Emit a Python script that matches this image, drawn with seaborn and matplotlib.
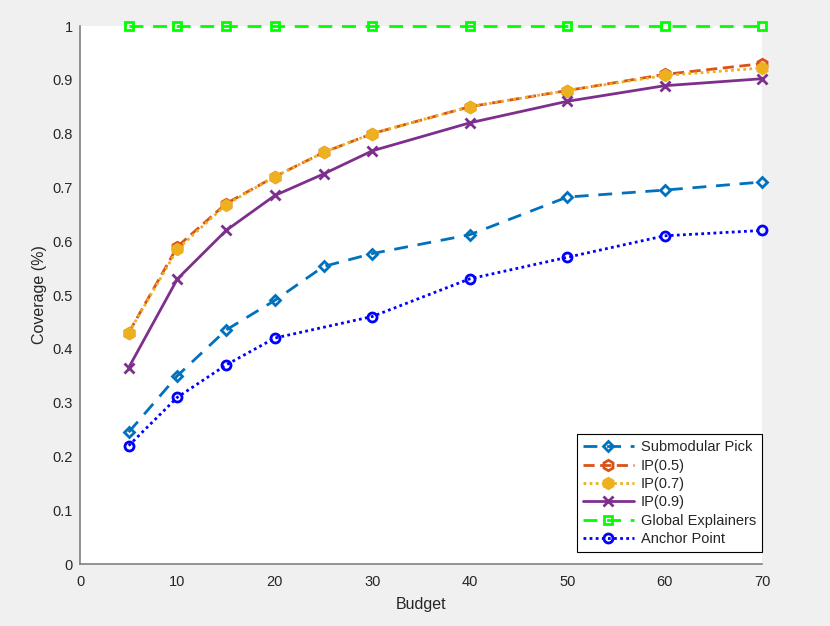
import numpy as np
import pandas as pd
import matplotlib
matplotlib.use("Agg")
import matplotlib.pyplot as plt
import seaborn as sns

sns.set_style("white")
plt.rcParams['font.family'] = ['Liberation Sans', 'DejaVu Sans']

# -----------------------------
# data
# -----------------------------
budget_full = [5, 10, 15, 20, 25, 30, 40, 50, 60, 70]
budget_short = [5, 10, 15, 20, 30, 40, 50, 60, 70]

submodular = [0.245, 0.35, 0.435, 0.49, 0.553, 0.577, 0.612, 0.682, 0.695, 0.71]
ip_05 = [0.43, 0.59, 0.67, 0.72, 0.765, 0.80, 0.85, 0.88, 0.91, 0.93]
ip_07 = [0.43, 0.585, 0.668, 0.72, 0.765, 0.80, 0.85, 0.88, 0.908, 0.922]
ip_09 = [0.365, 0.53, 0.62, 0.685, 0.725, 0.768, 0.82, 0.86, 0.889, 0.902]
global_expl = [1, 1, 1, 1, 1, 1, 1, 1, 1]
anchor = [0.22, 0.31, 0.37, 0.42, 0.46, 0.53, 0.57, 0.61, 0.62]

series = [
    ("Submodular Pick", budget_full, submodular, "#0072BD", (0, (5, 3.5)), "D", "none", 5.5),
    ("IP(0.5)", budget_full, ip_05, "#D95319", (0, (4, 2)), "h", "none", 7.5),
    ("IP(0.7)", budget_full, ip_07, "#EDB120", (0, (1, 1.2)), "h", "#EDB120", 7.5),
    ("IP(0.9)", budget_full, ip_09, "#7E2F8E", "-", "x", "none", 6.5),
    ("Global Explainers", budget_short, global_expl, "#00FF00", (0, (5, 3.5)), "s", "none", 5.5),
    ("Anchor Point", budget_short, anchor, "#0000FF", (0, (1, 1.2)), "o", "none", 6.5),
]

fig = plt.figure(figsize=(8.3, 6.26), dpi=100, facecolor="#f0f0f0")
ax = fig.add_axes([80 / 830, 1 - 564 / 626, 682 / 830, 538 / 626])
ax.set_facecolor("white")

for name, xs, ys, col, ls, mk, mfc, ms in series:
    df = pd.DataFrame({"Budget": xs, "Coverage": ys})
    sns.lineplot(data=df, x="Budget", y="Coverage", ax=ax, color=col, linestyle=ls,
                 linewidth=2, marker=mk, markersize=ms, markerfacecolor=mfc,
                 markeredgecolor=col, markeredgewidth=2, label=name, clip_on=False)

ax.set_xlim(0, 70)
ax.set_ylim(0, 1)
ax.set_xticks(range(0, 71, 10))
ax.set_yticks(np.arange(0, 1.01, 0.1))
ax.set_yticklabels(["0"] + [f"{v:.1f}" for v in np.arange(0.1, 0.95, 0.1)] + ["1"])
ax.set_xlabel("Budget", fontsize=11.5, color="#262626", labelpad=6)
ax.set_ylabel("Coverage (%)", fontsize=11.5, color="#262626", labelpad=4)
ax.tick_params(direction="in", length=5, width=1, colors="#808080",
               labelcolor="#262626", labelsize=10.5)
ax.tick_params(axis="x", pad=8)
ax.tick_params(axis="y", pad=5)
for side in ["top", "right"]:
    ax.spines[side].set_visible(False)
for side in ["left", "bottom"]:
    ax.spines[side].set_color("#808080")
    ax.spines[side].set_linewidth(1.2)

leg = ax.legend(loc="lower right", bbox_to_anchor=(1.0, 12 / 538), fontsize=10.5,
                frameon=True, fancybox=False, edgecolor="black", framealpha=1,
                borderpad=0.4, labelspacing=0.3, handlelength=3.5,
                handletextpad=0.5, borderaxespad=0.0)
leg.get_frame().set_linewidth(0.8)

fig.savefig("out.png", dpi=100, facecolor=fig.get_facecolor())
